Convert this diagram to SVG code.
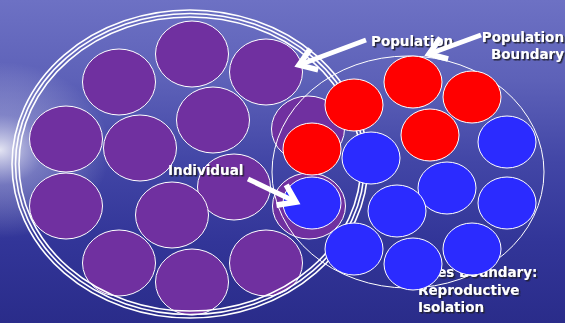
<svg xmlns="http://www.w3.org/2000/svg" width="565" height="323" viewBox="0 0 565 323">
<defs>
<linearGradient id="bg" x1="0" y1="0" x2="0" y2="1">
<stop offset="0" stop-color="#6d71c4"/>
<stop offset="0.25" stop-color="#5d61b8"/>
<stop offset="0.5" stop-color="#4246a6"/>
<stop offset="0.75" stop-color="#323598"/>
<stop offset="1" stop-color="#2a2c8a"/>
</linearGradient>
<radialGradient id="glow" cx="0" cy="150" r="110" gradientUnits="userSpaceOnUse" gradientTransform="translate(0 150) scale(1 0.8) translate(0 -150)">
<stop offset="0" stop-color="#ffffff" stop-opacity="0.85"/>
<stop offset="0.4" stop-color="#d8daf2" stop-opacity="0.35"/>
<stop offset="1" stop-color="#ffffff" stop-opacity="0"/>
</radialGradient>
<filter id="sh" x="-10%" y="-20%" width="130%" height="160%">
<feDropShadow dx="1.5" dy="1.5" stdDeviation="0.4" flood-color="#1a1a2a" flood-opacity="0.9"/>
</filter>
<marker id="ah" markerUnits="userSpaceOnUse" markerWidth="30" markerHeight="30" refX="0" refY="0" viewBox="-16 -12 20 24" orient="auto">
<path d="M-13 -9 L0 0 L-13 9" fill="none" stroke="#ffffff" stroke-width="4.5" stroke-linejoin="miter"/>
</marker>
</defs>
<style>
.lbl{font-family:"DejaVu Sans","Verdana",sans-serif;font-weight:bold;font-size:13.5px;fill:#ffffff;filter:url(#sh);}
.pu{fill:#7030a0;stroke:#ffffff;stroke-width:1;}
.rd{fill:#ff0000;stroke:#ffffff;stroke-width:1;}
.bl{fill:#2b2bff;stroke:#ffffff;stroke-width:1;}
.ring{fill:none;stroke:#ffffff;stroke-width:1.6;}
.edge{fill:none;stroke:#ffffff;stroke-width:5;}
</style>
<rect width="565" height="323" fill="url(#bg)"/>
<rect width="565" height="323" fill="url(#glow)"/>

<g id="species-label">
<text class="lbl" x="396" y="277">Species Boundary:</text>
<text class="lbl" x="418" y="295">Reproductive</text>
<text class="lbl" x="418" y="312">Isolation</text>
</g>

<g id="population">
<g id="purple-circles">
<ellipse class="pu" cx="119" cy="82" rx="36.5" ry="33"/>
<ellipse class="pu" cx="192" cy="54" rx="36.5" ry="33"/>
<ellipse class="pu" cx="266" cy="72" rx="36.5" ry="33"/>
<ellipse class="pu" cx="66" cy="139" rx="36.5" ry="33"/>
<ellipse class="pu" cx="140" cy="148" rx="36.5" ry="33"/>
<ellipse class="pu" cx="213" cy="120" rx="36.5" ry="33"/>
<ellipse class="pu" cx="308" cy="129" rx="36.5" ry="33"/>
<ellipse class="pu" cx="66" cy="206" rx="36.5" ry="33"/>
<ellipse class="pu" cx="234" cy="187" rx="36.5" ry="33"/>
<ellipse class="pu" cx="172" cy="215" rx="36.5" ry="33"/>
<ellipse class="pu" cx="119" cy="263" rx="36.5" ry="33"/>
<ellipse class="pu" cx="192" cy="282" rx="36.5" ry="33"/>
<ellipse class="pu" cx="266" cy="263" rx="36.5" ry="33"/>
<ellipse class="pu" cx="309" cy="206" rx="36.5" ry="33"/>
</g>
<g id="population-boundary">
<ellipse class="ring" cx="190" cy="164" rx="178" ry="154"/>
<ellipse class="ring" cx="190" cy="164" rx="174.5" ry="150.5"/>
<ellipse class="ring" cx="190" cy="164" rx="171" ry="147"/>
</g>
</g>

<g id="species-boundary">
<ellipse fill="none" stroke="#ffffff" stroke-width="1" cx="408" cy="172" rx="136" ry="116"/>
</g>

<g id="species">
<ellipse class="rd" cx="413" cy="82" rx="29" ry="26"/>
<ellipse class="rd" cx="472" cy="97" rx="29" ry="26"/>
<ellipse class="rd" cx="354" cy="105" rx="29" ry="26"/>
<ellipse class="rd" cx="430" cy="135" rx="29" ry="26"/>
<ellipse class="rd" cx="312" cy="149" rx="29" ry="26"/>
<ellipse class="bl" cx="371" cy="158" rx="29" ry="26"/>
<ellipse class="bl" cx="507" cy="142" rx="29" ry="26"/>
<ellipse class="bl" cx="447" cy="188" rx="29" ry="26"/>
<ellipse class="bl" cx="507" cy="203" rx="29" ry="26"/>
<ellipse class="bl" cx="312" cy="203" rx="29" ry="26"/>
<ellipse class="bl" cx="397" cy="211" rx="29" ry="26"/>
<ellipse class="bl" cx="354" cy="249" rx="29" ry="26"/>
<ellipse class="bl" cx="413" cy="264" rx="29" ry="26"/>
<ellipse class="bl" cx="472" cy="249" rx="29" ry="26"/>
</g>

<g id="labels">
<text class="lbl" x="371" y="46">Population</text>
<text class="lbl" x="564" y="42" text-anchor="end">Population</text>
<text class="lbl" x="564" y="59" text-anchor="end">Boundary</text>
<text class="lbl" x="168" y="175">Individual</text>
</g>

<g id="connectors">
<line class="edge" x1="366" y1="40" x2="299" y2="65" marker-end="url(#ah)"/>
<line class="edge" x1="481" y1="35" x2="429" y2="54" marker-end="url(#ah)"/>
<line class="edge" x1="248" y1="179" x2="296" y2="202" marker-end="url(#ah)"/>
</g>
</svg>
